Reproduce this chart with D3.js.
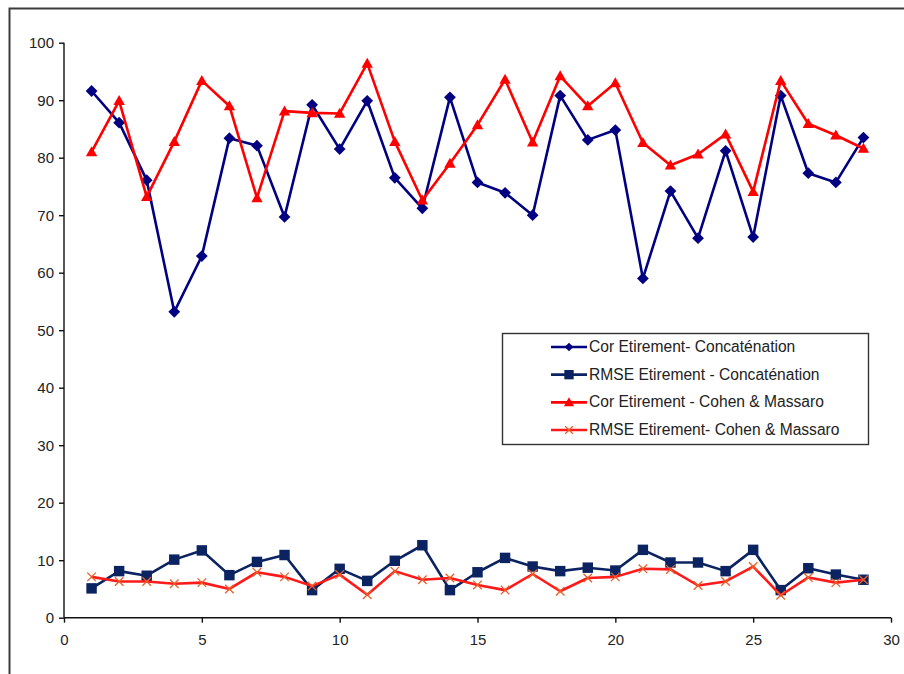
<!DOCTYPE html>
<html>
<head>
<meta charset="utf-8">
<script src="https://cdn.jsdelivr.net/npm/d3@7"></script>
<style>
  html, body { margin: 0; padding: 0; background: #ffffff; }
  svg { display: block; font-family: "Liberation Sans", Arial, sans-serif; }
  .tick text { font-size: 15px; font-family: "Liberation Sans", Arial, sans-serif; }
</style>
</head>
<body>
<svg id="chart" width="904" height="674"></svg>
<script>
// ---- data ----
const xValues = [1,2,3,4,5,6,7,8,9,10,11,12,13,14,15,16,17,18,19,20,21,22,23,24,25,26,27,28,29];
const corConcat = [91.6,86.1,76.1,53.2,62.9,83.4,82.1,69.7,89.2,81.5,89.9,76.5,71.2,90.5,75.7,73.9,70.0,90.8,83.1,84.8,59.0,74.2,66.0,81.2,66.2,90.8,77.3,75.7,83.5];
const rmseConcat = [5.1,8.1,7.3,10.1,11.7,7.4,9.7,10.9,4.8,8.5,6.4,9.9,12.6,4.8,7.9,10.4,8.9,8.1,8.7,8.2,11.8,9.6,9.6,8.1,11.8,4.8,8.6,7.5,6.6];
const corCohen = [81.0,89.9,73.2,82.8,93.4,89.0,73.0,88.1,87.8,87.7,96.4,82.8,72.6,79.0,85.7,93.6,82.7,94.2,89.0,93.0,82.6,78.7,80.6,84.1,74.1,93.4,85.9,83.9,81.6];
const rmseCohen = [7.1,6.3,6.3,5.9,6.1,5.0,7.9,7.1,5.5,7.5,4.0,8.1,6.6,6.9,5.7,4.8,7.6,4.6,6.9,7.1,8.5,8.4,5.6,6.3,8.9,3.9,7.0,6.1,6.6];
const seriesNames = [
  "Cor Etirement- Concaténation",
  "RMSE Etirement - Concaténation",
  "Cor Etirement - Cohen & Massaro",
  "RMSE Etirement- Cohen & Massaro"
];
const seriesColors = ["#000080", "#0b2461", "#ff0000", "#ff1a1a"];
const seriesMarkers = ["diamond", "square", "triangle", "cross"];
const xTicks = [0,5,10,15,20,25,30];
const yTicks = [0,10,20,30,40,50,60,70,80,90,100];

const seriesData = [corConcat, rmseConcat, corCohen, rmseCohen];

// ---- layout ----
const svg = d3.select("#chart");
const x = d3.scaleLinear().domain([0, 30]).range([64, 891]);
const y = d3.scaleLinear().domain([0, 100]).range([617.7, 42.7]);

// outer chart border
svg.append("rect")
  .attr("x", 9.5).attr("y", 8.5)
  .attr("width", 1000).attr("height", 1000)
  .attr("fill", "#ffffff")
  .attr("stroke", "#3c3c3c").attr("stroke-width", 2);

// axes
const yAxis = d3.axisLeft(y).tickValues(yTicks).tickSize(5).tickPadding(5);
const gy = svg.append("g").attr("transform", `translate(${x(0)},0)`).call(yAxis);
const xAxis = d3.axisBottom(x).tickValues(xTicks).tickSize(5).tickPadding(12);
const gx = svg.append("g").attr("transform", `translate(0,${y(0)})`).call(xAxis);

[gy, gx].forEach(g => {
  g.attr("font-size", 15).attr("font-family", "'Liberation Sans', Arial, sans-serif");
  g.select(".domain").attr("stroke", "#111").attr("stroke-width", 1.4);
  g.selectAll(".tick line").attr("stroke", "#111").attr("stroke-width", 1.4);
  g.selectAll(".tick text")
    .attr("fill", "#222")
    .attr("font-size", 15);
});
gx.select(".domain").attr("d", `M${x(0)},0H${x(30)}`);
gy.select(".domain").attr("d", `M0,${y(0)}V${y(100)}`);

// marker drawing
function drawMarker(g, type, color, cx, cy, s) {
  if (type === "diamond") {
    const r = s * 0.62;
    g.append("path")
      .attr("d", `M${cx},${cy - r}L${cx + r},${cy}L${cx},${cy + r}L${cx - r},${cy}Z`)
      .attr("fill", color);
  } else if (type === "square") {
    const h = s * 0.55;
    g.append("rect")
      .attr("x", cx - h).attr("y", cy - h)
      .attr("width", 2 * h).attr("height", 2 * h)
      .attr("fill", color);
  } else if (type === "triangle") {
    const h = s * 0.6;
    g.append("path")
      .attr("d", `M${cx},${cy - h}L${cx + h},${cy + h * 0.75}L${cx - h},${cy + h * 0.75}Z`)
      .attr("fill", color);
  } else if (type === "cross") {
    const h = s * 0.45;
    g.append("path")
      .attr("d", `M${cx - h},${cy - h}L${cx + h},${cy + h}M${cx - h},${cy + h}L${cx + h},${cy - h}`)
      .attr("stroke", "#e8602a").attr("stroke-width", 1.3).attr("fill", "none");
  }
}

const line = d3.line().x((d, i) => x(xValues[i])).y(d => y(d));

seriesData.forEach((vals, si) => {
  const g = svg.append("g");
  g.append("path")
    .datum(vals)
    .attr("d", line)
    .attr("fill", "none")
    .attr("stroke", seriesColors[si])
    .attr("stroke-width", 2.6)
    .attr("stroke-linejoin", "round");
  vals.forEach((v, i) => drawMarker(g, seriesMarkers[si], seriesColors[si], x(xValues[i]), y(v), 9.5));
});

// legend
const legX = 502, legY = 333, legW = 366, legH = 111;
const leg = svg.append("g");
leg.append("rect")
  .attr("x", legX + 0.5).attr("y", legY + 0.5)
  .attr("width", legW).attr("height", legH)
  .attr("fill", "#ffffff").attr("stroke", "#333").attr("stroke-width", 1.4);
const rowY = d3.scaleLinear().domain([0, 3]).range([legY + 14, legY + 97]);
seriesNames.forEach((name, si) => {
  const ry = rowY(si);
  leg.append("line")
    .attr("x1", 551).attr("x2", 587).attr("y1", ry).attr("y2", ry)
    .attr("stroke", seriesColors[si]).attr("stroke-width", 2.6);
  drawMarker(leg, seriesMarkers[si], seriesColors[si], 569, ry, si === 0 ? 7 : 8.5);
  leg.append("text")
    .attr("x", 589).attr("y", ry + 5)
    .attr("fill", "#222")
    .style("font-size", "15.6px")
    .text(name);
});
</script>
</body>
</html>
